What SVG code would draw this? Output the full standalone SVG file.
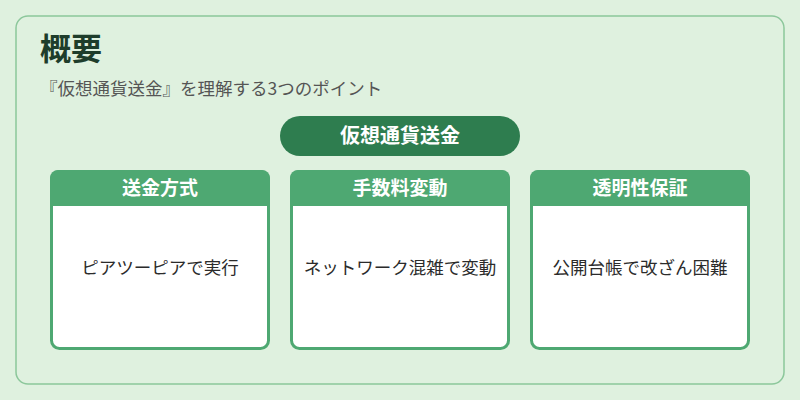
<svg xmlns="http://www.w3.org/2000/svg" width="800" height="400" viewBox="0 0 800 400">
<style>
.t{font-family:"Noto Sans CJK JP","Noto Sans",sans-serif}
.hd{fill:#4ea872}
.bd{fill:#fff;stroke:#4ea872;stroke-width:3}
.ht{font-size:19px;font-weight:bold;fill:#fff;text-anchor:middle}
.bt{font-size:17.5px;fill:#2b2b2b;text-anchor:middle}
</style>
<rect width="800" height="400" fill="#dff1df"/>
<rect x="16" y="16" width="768" height="368" rx="12" fill="#dff1df" stroke="#8cc79b" stroke-width="1.5"/>
<text class="t" x="40" y="60" font-size="31" font-weight="bold" fill="#1e3d2b">概要</text>
<text class="t" x="40" y="95" font-size="17.5" fill="#555">『仮想通貨送金』を理解する3つのポイント</text>
<g id="main"><rect x="280" y="116" width="240" height="40" rx="20" fill="#2e7d4f"/>
<text class="t" x="400" y="143" font-size="20" font-weight="bold" fill="#fff" text-anchor="middle">仮想通貨送金</text></g>
<g id="c1"><rect class="bd" x="51.5" y="171.5" width="217" height="177" rx="8"/><path class="hd" d="M50 206V178a8 8 0 0 1 8-8h204a8 8 0 0 1 8 8v28z"/>
<text class="t ht" x="160" y="195">送金方式</text><text class="t bt" x="160" y="274">ピアツーピアで実行</text></g>
<g id="c2"><rect class="bd" x="291.5" y="171.5" width="217" height="177" rx="8"/><path class="hd" d="M290 206V178a8 8 0 0 1 8-8h204a8 8 0 0 1 8 8v28z"/>
<text class="t ht" x="400" y="195">手数料変動</text><text class="t bt" x="400" y="274">ネットワーク混雑で変動</text></g>
<g id="c3"><rect class="bd" x="531.5" y="171.5" width="217" height="177" rx="8"/><path class="hd" d="M530 206V178a8 8 0 0 1 8-8h204a8 8 0 0 1 8 8v28z"/>
<text class="t ht" x="640" y="195">透明性保証</text><text class="t bt" x="640" y="274">公開台帳で改ざん困難</text></g>
<g id="connectors"/>
</svg>
